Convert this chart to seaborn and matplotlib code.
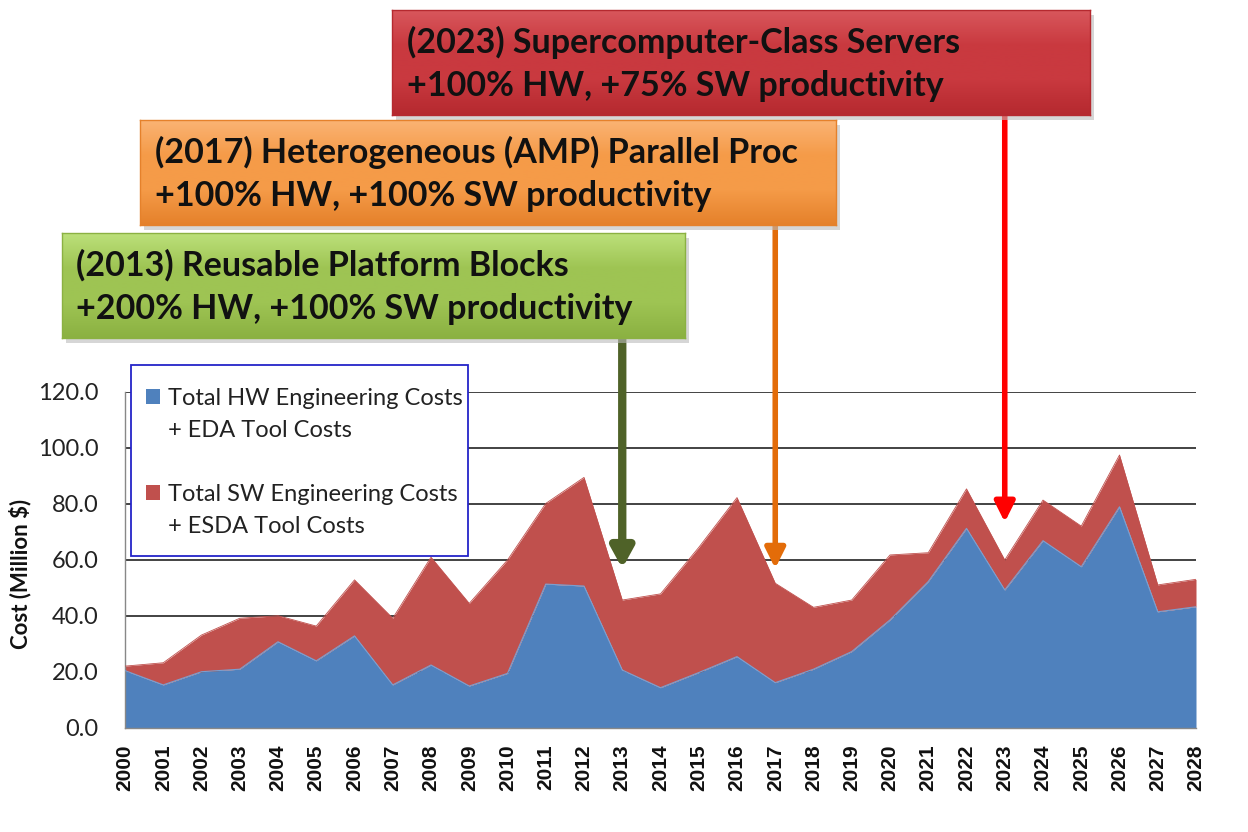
import numpy as np
import pandas as pd
import matplotlib
matplotlib.use("Agg")
import matplotlib.pyplot as plt
import seaborn as sns
from matplotlib.patches import Patch, Rectangle

# ---------------- data ----------------
years = list(range(2000, 2029))
hw_costs = [20.5, 15.4, 20.1, 21.0, 30.8, 24.0, 32.9, 15.4, 22.5, 15.0, 19.5,
            51.4, 50.7, 20.7, 14.4, 19.8, 25.5, 16.2, 21.0, 27.3, 38.6,
            52.3, 71.3, 49.3, 66.9, 57.6, 79.0, 41.5, 43.3]
total_costs = [22.1, 23.3, 33.2, 39.2, 40.1, 36.4, 52.9, 39.2, 61.0, 44.5, 60.0,
               80.2, 89.5, 45.7, 47.9, 64.5, 82.3, 51.7, 43.1, 45.7, 61.8,
               62.6, 85.4, 60.0, 81.4, 72.1, 97.5, 51.1, 53.1]
sw_costs = [t - h for t, h in zip(total_costs, hw_costs)]

y_ticks = [0, 20, 40, 60, 80, 100, 120]
legend_lines = ["Total HW Engineering Costs", "+ EDA Tool Costs", " ",
                "Total SW Engineering Costs", "+ ESDA Tool Costs"]
y_label = "Cost (Million $)"

milestone_years = [2013, 2017, 2023]
milestone_tip = [57, 57, 73.5]
milestone_line1 = ["(2013) Reusable Platform Blocks",
                   "(2017) Heterogeneous (AMP) Parallel Proc",
                   "(2023) Supercomputer-Class Servers"]
milestone_line2 = ["+200% HW, +100% SW productivity",
                   "+100% HW, +100% SW productivity",
                   "+100% HW, +75% SW productivity"]

df = pd.DataFrame({"year": years, "hw": hw_costs, "total": total_costs, "sw": sw_costs})

# ---------------- style ----------------
sns.set_theme(style="white")
plt.rcParams["font.family"] = ["Lato", "DejaVu Sans"]

W, H = 1248, 832
fig = plt.figure(figsize=(W / 100, H / 100), dpi=100)
fig.patch.set_facecolor("white")

def fx(px):
    return px / W

def fy(py):
    return 1 - py / H

ax = fig.add_axes([fx(125), fy(728), fx(1196) - fx(125), fy(392) - fy(728)])

blue = "#4F81BD"
red = "#C0504D"

ax.fill_between(df["year"], 0, df["hw"], color=blue, linewidth=0, zorder=2)
ax.fill_between(df["year"], df["hw"], df["total"], color=red, linewidth=0, zorder=2)
sns.lineplot(data=df, x="year", y="hw", ax=ax, color="#7A9FD0", linewidth=0.8, zorder=3)
sns.lineplot(data=df, x="year", y="total", ax=ax, color=red, linewidth=0.6, zorder=3)

ax.set_xlim(2000, 2028)
ax.set_ylim(0, 120)
ax.set_yticks(y_ticks)
ax.set_yticklabels([f"{v:.1f}" for v in y_ticks], fontsize=17, color="#222222")
ax.set_xticks(years)
ax.set_xticklabels([str(y) for y in years], rotation=90, fontsize=15,
                   fontweight="bold", family=["Liberation Sans", "DejaVu Sans"], color="#111111")
for v in y_ticks[1:]:
    ax.axhline(v, color="#222222", linewidth=1.2, zorder=1)

ax.tick_params(axis="both", which="both", direction="out", length=8, width=1, color="#888888")
ax.tick_params(axis="y", pad=11)
ax.tick_params(axis="x", pad=4)
for s in ["top", "right"]:
    ax.spines[s].set_visible(False)
for s in ["left", "bottom"]:
    ax.spines[s].set_color("#888888")
    ax.spines[s].set_linewidth(1)
ax.set_xlabel("")
ax.set_ylabel(y_label, fontsize=16, fontweight="bold", color="#111111")
ax.yaxis.set_label_coords(-0.087, 0.46)

# legend frame drawn separately so the padding matches
ax.add_patch(Rectangle((fx(131), fy(556)), fx(468) - fx(131), fy(365) - fy(556),
                       transform=fig.transFigure, facecolor="white", clip_on=False,
                       edgecolor="#2424C8", linewidth=1.3, zorder=4))
empty = Patch(facecolor="none", edgecolor="none")
handles = [Patch(facecolor=blue, edgecolor="none"), empty, empty,
           Patch(facecolor=red, edgecolor="none"), empty]
leg = ax.legend(handles, legend_lines, loc="upper left",
                bbox_to_anchor=(fx(141), fy(383)), bbox_transform=fig.transFigure,
                fontsize=17, frameon=False, borderpad=0.2,
                labelspacing=0.47, handlelength=0.6, handleheight=0.6, handletextpad=0.35,
                borderaxespad=0)
leg.set_zorder(5)
for t in leg.get_texts():
    t.set_color("#222222")

# milestone boxes
boxes = [  # (left, top, right, bottom) in pixels, colors top/mid/bottom, arrow color, arrow width
    ((62, 233, 685, 338), ["#BCE07A", "#9EC453", "#8BB142"], "#4F6228", 6),
    ((140, 120, 836, 225), ["#FAB374", "#F59B48", "#E5812B"], "#E36C09", 4),
    ((392, 10, 1090, 115), ["#D8575C", "#C9393F", "#B5292F"], "#FF0000", 4),
]

for i, ((l, t, r, b), cols, acol, aw) in enumerate(boxes):
    # shadow
    fig.patches.append(Rectangle((fx(l + 4), fy(b + 5)), fx(r) - fx(l), fy(t) - fy(b),
                                 transform=fig.transFigure, facecolor="#BBBBBB",
                                 edgecolor="none", alpha=0.6, zorder=1))
    bax = fig.add_axes([fx(l), fy(b), fx(r) - fx(l), fy(t) - fy(b)], zorder=6)
    cmap = matplotlib.colors.LinearSegmentedColormap.from_list("g", [cols[0], cols[1], cols[1], cols[2]])
    grad = np.linspace(0, 1, 100).reshape(-1, 1)
    bax.imshow(grad, aspect="auto", cmap=cmap, extent=[0, 1, 0, 1], origin="upper")
    bax.set_xticks([])
    bax.set_yticks([])
    for s in bax.spines.values():
        s.set_color(cols[2])
        s.set_linewidth(1)
    bax.text(0.022, 0.69, milestone_line1[i], transform=bax.transAxes, fontsize=24.5,
             fontweight="bold", color="#111111", va="center", ha="left")
    bax.text(0.022, 0.28, milestone_line2[i], transform=bax.transAxes, fontsize=24.5,
             fontweight="bold", color="#111111", va="center", ha="left")
    # arrow from box bottom down to the milestone year
    ax.annotate("", xy=(milestone_years[i], milestone_tip[i]), xycoords="data",
                xytext=(milestone_years[i], fy(b)), textcoords=("data", "figure fraction"),
                arrowprops=dict(arrowstyle=f"-|>,head_width={0.55 if aw > 4 else 0.5},head_length=1.0",
                                color=acol, lw=aw, shrinkA=0, shrinkB=0),
                annotation_clip=False, zorder=7)

fig.savefig("out.png", dpi=100)
